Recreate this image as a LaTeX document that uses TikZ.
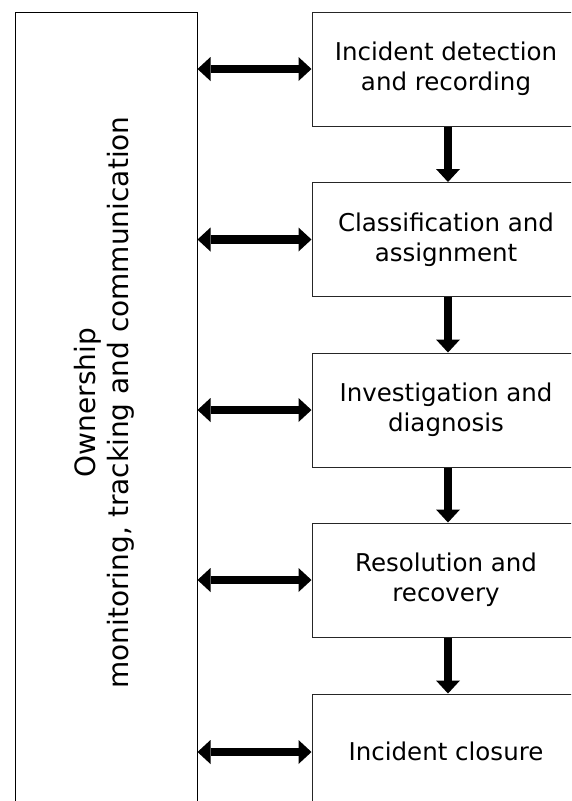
\documentclass[tikz,border=0pt]{standalone}
\usepackage{fontspec}
\setmainfont{DejaVu Sans}
\usetikzlibrary{arrows.meta}
\begin{document}
\begin{tikzpicture}[x=1pt,y=1pt,
  box/.style={draw=black!85,line width=1pt,rectangle,inner sep=0pt,
    minimum width=268pt,minimum height=114pt,align=center,
    font=\fontsize{24.5}{30}\selectfont},
  lbox/.style={draw=black,line width=1pt,rectangle,inner sep=0pt,
    minimum width=182pt,minimum height=820pt},
  lbl/.style={align=center,rotate=90,inner sep=0pt,
    font=\fontsize{28}{33}\selectfont},
  flow/.style={line width=8.5pt,-{Triangle[width=24pt,length=13pt,line width=0pt]}},
  link/.style={line width=8.5pt,{Triangle[width=24pt,length=13pt,line width=0pt]}-{Triangle[width=24pt,length=13pt,line width=0pt]}}
]
\path[use as bounding box,clip] (0,0) rectangle (571,-801);
\fill[white] (0,0) rectangle (571,-801);
\node[lbox] (own) at (106,-422) {};
\node[lbl] (ownlabel) at (104.5,-402.5) {Ownership\\monitoring, tracking and communication};
\node[box] (b1) at (446,-69) {Incident detection\\and recording};
\node[box] (b2) at (446,-239.5) {Classification and\\assignment};
\node[box] (b3) at (446,-410) {Investigation and\\diagnosis};
\node[box] (b4) at (446,-580) {Resolution and\\recovery};
\node[box] (b5) at (446,-751) {Incident closure};
\foreach \a/\b in {b1/b2,b2/b3,b3/b4,b4/b5}{
  \draw[flow] ([xshift=2pt]\a.south) -- ([xshift=2pt]\b.north);
}
\foreach \b/\dy in {b1/0,b2/0,b3/0,b4/0,b5/-1}{
  \draw[link] ([yshift=\dy pt]\b.west -| own.east) -- ([yshift=\dy pt]\b.west);
}
\end{tikzpicture}
\end{document}
